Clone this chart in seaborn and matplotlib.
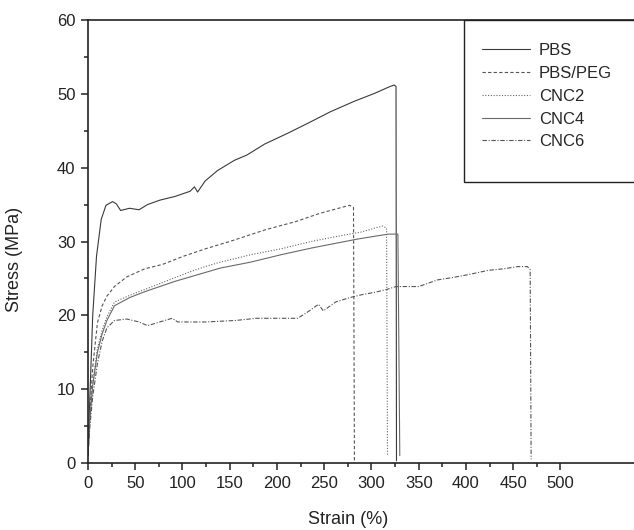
import matplotlib
matplotlib.use("Agg")
import matplotlib.pyplot as plt
import seaborn as sns
import pandas as pd
from matplotlib.patches import Rectangle

# strain (%) / stress (MPa)
pbs_strain = [0, 2, 5, 9, 14, 19, 26, 30, 34.5, 44, 54, 63, 76, 92, 108, 112.7, 116, 124, 137,
              155, 168, 187, 212, 234, 257, 282, 304, 318, 324, 326, 326.5]
pbs_stress = [2, 9, 20, 28, 33, 34.9, 35.4, 35.1, 34.2, 34.5, 34.3, 35.0, 35.6, 36.1, 36.8, 37.4,
              36.7, 38.2, 39.6, 41.0, 41.7, 43.2, 44.7, 46.1, 47.6, 49.0, 50.1, 50.9, 51.2, 51.0,
              0.3]

peg_strain = [0, 2, 5, 10, 15, 20, 28, 41, 60, 79, 101, 124, 150, 169, 188, 220, 245, 268, 277,
              281, 282]
peg_stress = [1, 7, 13, 19, 21.3, 22.6, 23.9, 25.2, 26.3, 26.9, 28.0, 29.0, 30.0, 30.8, 31.6,
              32.7, 33.8, 34.6, 34.9, 34.6, 0.3]

cnc2_strain = [0, 2, 5, 10, 15, 20, 28, 44, 60, 76, 92, 108, 124, 140, 172, 204, 236, 268, 290,
               303, 312, 316, 317]
cnc2_stress = [1, 6, 11, 15.5, 18, 19.8, 21.8, 22.7, 23.5, 24.3, 25.1, 25.9, 26.6, 27.2, 28.2,
               29.0, 30.0, 30.8, 31.3, 31.8, 32.1, 31.8, 1.0]

cnc4_strain = [0, 2, 5, 10, 15, 20, 28, 44, 60, 76, 92, 108, 124, 140, 172, 204, 236, 268, 284,
               303, 318, 328, 330]
cnc4_stress = [1, 6, 10.5, 15, 17.5, 19.3, 21.3, 22.4, 23.2, 23.9, 24.6, 25.2, 25.8, 26.4, 27.2,
               28.2, 29.1, 29.9, 30.3, 30.7, 31.0, 31.0, 1.0]

cnc6_strain = [0, 2, 5, 10, 15, 20, 28, 41, 54, 63, 76, 89, 95, 124, 156, 178, 204, 222, 233,
               244, 249, 262, 277, 290, 303, 316, 326, 350, 370, 385, 402, 424, 440, 455, 465,
               468, 469]
cnc6_stress = [1, 5, 9, 13.5, 16.5, 18.3, 19.3, 19.5, 19.1, 18.6, 19.1, 19.6, 19.1, 19.1, 19.3,
               19.6, 19.6, 19.6, 20.5, 21.5, 20.6, 21.8, 22.4, 22.8, 23.1, 23.5, 23.9, 23.9,
               24.8, 25.1, 25.5, 26.1, 26.3, 26.6, 26.6, 26.2, 0.5]

samples = ["PBS", "PBS/PEG", "CNC2", "CNC4", "CNC6"]
curves = {
    "PBS": (pbs_strain, pbs_stress),
    "PBS/PEG": (peg_strain, peg_stress),
    "CNC2": (cnc2_strain, cnc2_stress),
    "CNC4": (cnc4_strain, cnc4_stress),
    "CNC6": (cnc6_strain, cnc6_stress),
}
line_styles = {
    "PBS": ("-", "#3a3a3a"),
    "PBS/PEG": ((0, (3, 2)), "#555555"),
    "CNC2": ((0, (1, 1.5)), "#666666"),
    "CNC4": ("-", "#6a6a6a"),
    "CNC6": ((0, (4, 1.5, 1, 1.5)), "#555555"),
}

x_major = list(range(0, 501, 50))
x_minor = list(range(25, 500, 50))
y_major = list(range(0, 61, 10))
y_minor = list(range(5, 60, 10))

sns.set_style("ticks")
plt.rcParams["font.family"] = ["Liberation Sans", "DejaVu Sans"]

fig = plt.figure(figsize=(6.34, 5.30), dpi=100)
ax = fig.add_axes([88 / 634, 67 / 530, 548 / 634, 443 / 530])

for name in samples:
    strain, stress = curves[name]
    df = pd.DataFrame({"strain": strain, "stress": stress})
    ls, col = line_styles[name]
    sns.lineplot(data=df, x="strain", y="stress", ax=ax, sort=False, estimator=None,
                 color=col, linestyle=ls, linewidth=0.8, label=name)

ax.set_xlim(0, 580)
ax.set_ylim(0, 60)
ax.set_xticks(x_major)
ax.set_xticks(x_minor, minor=True)
ax.set_yticks(y_major)
ax.set_yticks(y_minor, minor=True)
ax.tick_params(axis="both", which="major", direction="out", length=5, width=1.1,
               labelsize=12, colors="#222222", pad=4)
ax.tick_params(axis="both", which="minor", direction="out", length=3, width=1.1,
               colors="#222222")
for side in ["left", "bottom", "top"]:
    ax.spines[side].set_linewidth(1.2)
    ax.spines[side].set_color("#222222")
ax.spines["right"].set_visible(False)

ax.set_xlabel("Strain (%)", fontsize=13, color="#222222")
ax.set_ylabel("Stress (MPa)", fontsize=13, color="#222222")
ax.xaxis.set_label_coords(0.474, -0.108)
ax.yaxis.set_label_coords(-0.119, 0.46)

# legend box runs off the right edge as in the reference
box = Rectangle((464 / 634, (530 - 182) / 530), 0.3, 162 / 530,
                transform=fig.transFigure, facecolor="white",
                edgecolor="#222222", linewidth=1.0, zorder=3, clip_on=False)
ax.add_patch(box)
leg = ax.legend(loc="upper left", bbox_to_anchor=(482 / 634, (530 - 43) / 530),
                bbox_transform=fig.transFigure, borderaxespad=0, borderpad=0,
                fontsize=12, handlelength=2.9, handletextpad=0.5, labelspacing=0.47,
                frameon=False)
leg.set_zorder(5)

fig.savefig("out.png", dpi=100)
